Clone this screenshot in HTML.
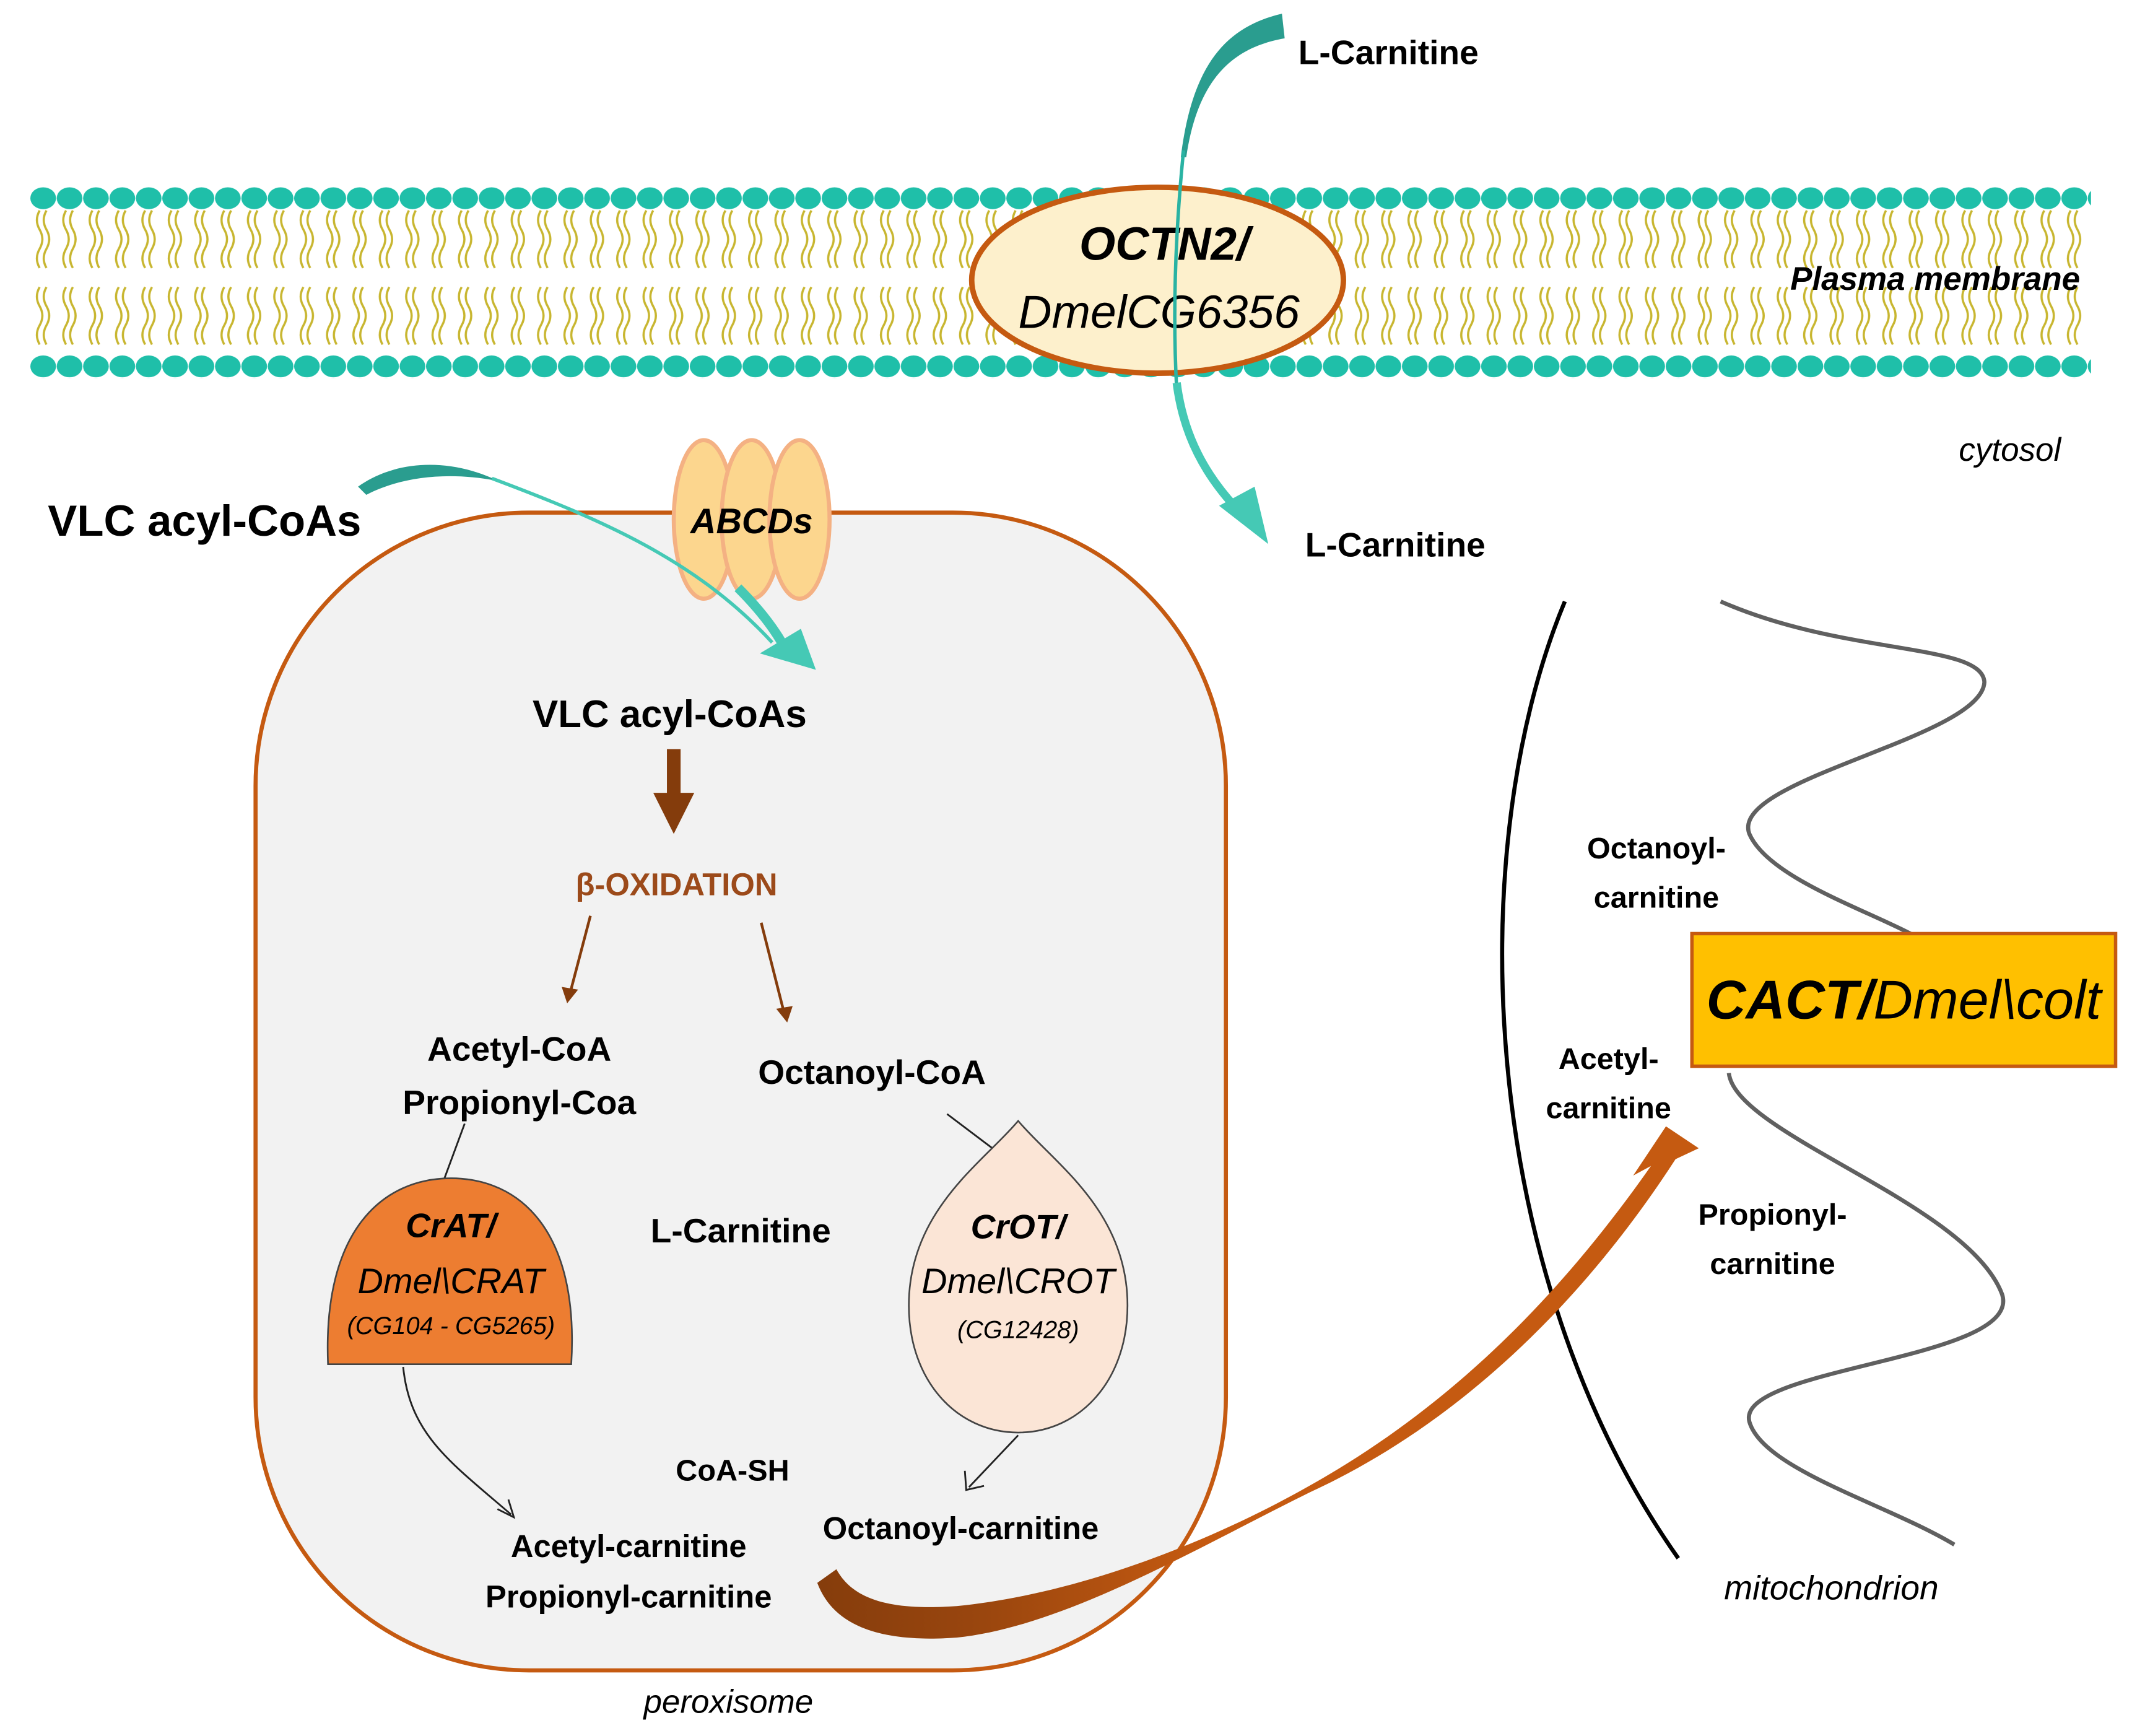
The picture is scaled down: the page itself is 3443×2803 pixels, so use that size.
<!DOCTYPE html>
<html><head><meta charset="utf-8"><style>
html,body{margin:0;padding:0;background:#fff;}
svg{display:block;}
text{font-family:"Liberation Sans",sans-serif;}
</style></head><body>
<svg width="3443" height="2803" viewBox="0 0 1560 1270" xmlns="http://www.w3.org/2000/svg">
<defs>
<pattern id="mem" x="22" y="137" width="19.3" height="140" patternUnits="userSpaceOnUse">
<g fill="none" stroke="#c8b630" stroke-width="1.6">
<path d="M7,17 q-4,7 0,14 t0,14 t0,14"/>
<path d="M12,17 q-4,7 0,14 t0,14 t0,14"/>
<path d="M7,73 q-4,7 0,14 t0,14 t0,14"/>
<path d="M12,73 q-4,7 0,14 t0,14 t0,14"/>
</g>
<ellipse cx="9.6" cy="8" rx="9.4" ry="8" fill="#1fbfa9"/>
<ellipse cx="9.6" cy="131" rx="9.4" ry="8" fill="#1fbfa9"/>
</pattern>
<linearGradient id="brg" x1="590" y1="0" x2="1240" y2="0" gradientUnits="userSpaceOnUse">
<stop offset="0" stop-color="#843c0c"/>
<stop offset="0.2" stop-color="#9a460e"/>
<stop offset="0.45" stop-color="#c55a11"/>
<stop offset="1" stop-color="#c55a11"/>
</linearGradient>
</defs>
<rect x="22" y="137" width="1508" height="140" fill="url(#mem)"/>
<text x="1522" y="212" font-size="24" font-weight="bold" font-style="italic" text-anchor="end">Plasma membrane</text>

<!-- OCTN2 -->
<ellipse cx="847" cy="205" rx="136" ry="68" fill="#fdf0cc" stroke="#c55a11" stroke-width="4"/>
<text x="852" y="190" font-size="34" font-weight="bold" font-style="italic" text-anchor="middle">OCTN2/</text>
<text x="848" y="240" font-size="34" font-style="italic" text-anchor="middle">DmelCG6356</text>

<!-- top teal arrow -->
<path d="M938,10 C895,20 872,50 864,115 L868,115 C876,60 900,35 940,28 Z" fill="#2a9d8f"/>
<path d="M866,110 C860,170 858,230 861,285" stroke="#2ab3a3" stroke-width="2.5" fill="none"/>
<path d="M861,280 C866,320 883,348 903,370" stroke="#45c9b5" stroke-width="6" fill="none"/>
<polygon points="892,370 918,356 928,398" fill="#45c9b5"/>
<text x="950" y="47" font-size="25" font-weight="bold">L-Carnitine</text>
<text x="955" y="407" font-size="25" font-weight="bold">L-Carnitine</text>
<text x="1508" y="337" font-size="24" font-style="italic" text-anchor="end">cytosol</text>

<!-- peroxisome -->
<rect x="187" y="375" width="710" height="847" rx="200" ry="200" fill="#f2f2f2" stroke="#c55a11" stroke-width="3"/>
<text x="533" y="1253" font-size="24" font-style="italic" text-anchor="middle">peroxisome</text>

<!-- ABCDs -->
<g fill="#fcd68e" stroke="#f4b183" stroke-width="3">
<ellipse cx="515" cy="380" rx="22" ry="58"/>
<ellipse cx="550" cy="380" rx="22" ry="58"/>
<ellipse cx="585" cy="380" rx="22" ry="58"/>
</g>
<text x="550" y="390" font-size="26" font-weight="bold" font-style="italic" text-anchor="middle">ABCDs</text>

<!-- VLC teal arrow -->
<path d="M262,356 C290,336 330,335 365,352 C330,345 295,348 268,362 Z" fill="#2a9d8f"/>
<path d="M360,350 C440,380 510,410 565,470" stroke="#45c9b5" stroke-width="2.5" fill="none"/>
<path d="M540,430 C555,445 565,458 572,470" stroke="#45c9b5" stroke-width="7" fill="none"/>
<polygon points="556,478 586,460 597,490" fill="#45c9b5"/>
<text x="35" y="392" font-size="32" font-weight="bold">VLC acyl-CoAs</text>

<text x="490" y="532" font-size="28" font-weight="bold" text-anchor="middle">VLC acyl-CoAs</text>
<rect x="488" y="548" width="10" height="35" fill="#843c0c"/>
<polygon points="478,580 508,580 493,610" fill="#843c0c"/>
<text x="495" y="655" font-size="23" font-weight="bold" fill="#9c4a1a" text-anchor="middle">β-OXIDATION</text>
<g stroke="#843c0c" stroke-width="2" fill="none">
<line x1="432" y1="670" x2="417" y2="727"/>
<line x1="557" y1="675" x2="574" y2="742"/>
</g>
<polygon points="411,722 423,724 415,734" fill="#843c0c"/>
<polygon points="568,738 580,736 576,748" fill="#843c0c"/>

<text x="380" y="776" font-size="25" font-weight="bold" text-anchor="middle">Acetyl-CoA</text>
<text x="380" y="815" font-size="25" font-weight="bold" text-anchor="middle">Propionyl-Coa</text>
<text x="638" y="793" font-size="25" font-weight="bold" text-anchor="middle">Octanoyl-CoA</text>
<g stroke="#222" stroke-width="1.3" fill="none">
<line x1="340" y1="822" x2="323" y2="868"/>
<line x1="693" y1="815" x2="742" y2="852"/>
</g>

<!-- CrAT -->
<path d="M240,998 C236,900 280,862 330,862 C380,862 424,900 418,998 Z" fill="#ed7d31" stroke="#444" stroke-width="1.2"/>
<text x="330" y="905" font-size="25" font-weight="bold" font-style="italic" text-anchor="middle">CrAT/</text>
<text x="330" y="946" font-size="26" font-style="italic" text-anchor="middle">Dmel\CRAT</text>
<text x="330" y="976" font-size="18" font-style="italic" text-anchor="middle">(CG104 - CG5265)</text>

<!-- CrOT -->
<path d="M745,820 C770,850 825,885 825,955 C825,1010 790,1048 745,1048 C700,1048 665,1010 665,955 C665,885 720,850 745,820 Z" fill="#fbe5d6" stroke="#444" stroke-width="1.2"/>
<text x="745" y="906" font-size="25" font-weight="bold" font-style="italic" text-anchor="middle">CrOT/</text>
<text x="745" y="946" font-size="26" font-style="italic" text-anchor="middle">Dmel\CROT</text>
<text x="745" y="979" font-size="18" font-style="italic" text-anchor="middle">(CG12428)</text>

<text x="542" y="909" font-size="25" font-weight="bold" text-anchor="middle">L-Carnitine</text>
<text x="536" y="1083" font-size="22" font-weight="bold" text-anchor="middle">CoA-SH</text>

<g stroke="#222" stroke-width="1.3" fill="none">
<path d="M295,1000 C300,1050 330,1070 374,1108"/>
<path d="M364,1104 L376,1110 L372,1097"/>
<line x1="745" y1="1050" x2="709" y2="1088"/>
<path d="M706,1076 L707,1090 L720,1087"/>
</g>

<text x="460" y="1139" font-size="23" font-weight="bold" text-anchor="middle">Acetyl-carnitine</text>
<text x="460" y="1176" font-size="23" font-weight="bold" text-anchor="middle">Propionyl-carnitine</text>
<text x="703" y="1126" font-size="23" font-weight="bold" text-anchor="middle">Octanoyl-carnitine</text>

<!-- mitochondrion -->
<path d="M1145,440 C1070,620 1080,930 1228,1140" stroke="#000" stroke-width="3" fill="none"/>
<path d="M1259,440 C1350,480 1450,470 1452,499 C1450,540 1265,570 1280,610 C1295,645 1380,670 1410,690
 M1265,785 C1270,830 1440,880 1465,947 C1480,995 1270,1000 1280,1040 C1290,1075 1380,1100 1430,1130" stroke="#606060" stroke-width="3" fill="none"/>
<rect x="1238" y="683" width="310" height="97" fill="#ffc000" stroke="#c55a11" stroke-width="2.5"/>
<text x="1393" y="745" font-size="40" text-anchor="middle"><tspan font-weight="bold" font-style="italic">CACT/</tspan><tspan font-style="italic">Dmel\colt</tspan></text>
<g font-size="22" font-weight="bold" text-anchor="middle">
<text x="1212" y="628">Octanoyl-</text>
<text x="1212" y="664">carnitine</text>
<text x="1177" y="782">Acetyl-</text>
<text x="1177" y="818">carnitine</text>
<text x="1297" y="896">Propionyl-</text>
<text x="1297" y="932">carnitine</text>
</g>
<text x="1340" y="1170" font-size="25" font-style="italic" text-anchor="middle">mitochondrion</text>

<!-- brown big arrow -->
<path d="M598,1158 L612,1148 C625,1172 655,1178 700,1175 C800,1165 900,1120 958,1087 C1060,1030 1140,950 1208,853 L1195,860 L1219,824 L1243,840 L1226,848 C1160,950 1070,1040 960,1091 C880,1130 780,1190 700,1198 C645,1202 610,1190 598,1158 Z" fill="url(#brg)"/>
</svg>
</body></html>
